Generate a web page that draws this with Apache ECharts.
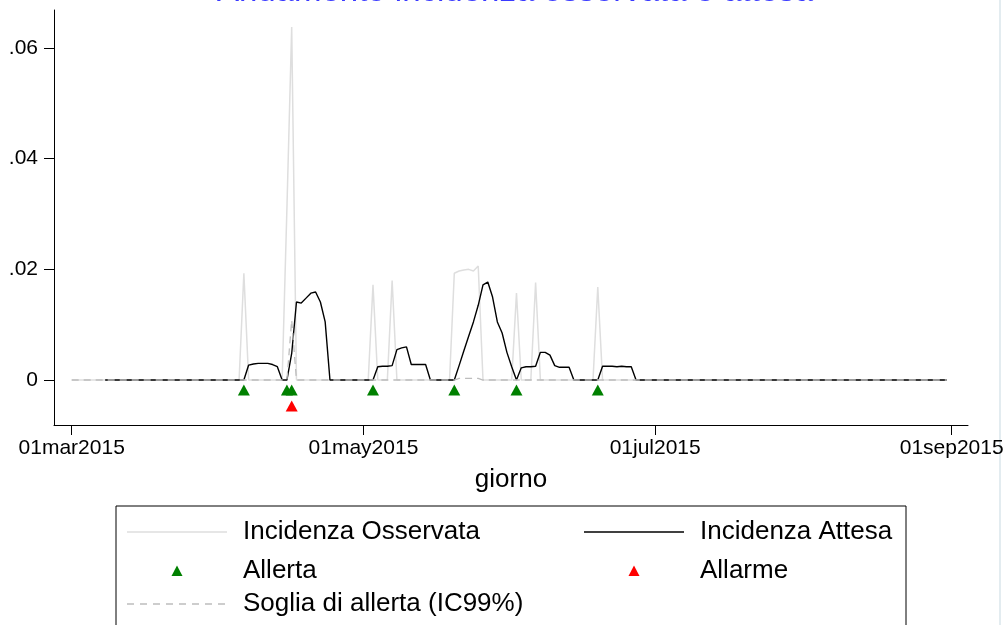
<!DOCTYPE html>
<html><head><meta charset="utf-8">
<script src="https://cdn.jsdelivr.net/npm/echarts@6/dist/echarts.min.js"></script>
<style>html,body{margin:0;padding:0;background:#fff}#c{width:1008px;height:625px}</style>
</head><body><div id="c"></div>
<script>
// ---- data (day index 0 = 01mar2015) ----
const titleText = 'Andamento incidenza osservata e attesa';
const tickDays = [0, 61, 122, 184];
const tickLabels = ['01mar2015', '01may2015', '01jul2015', '01sep2015'];
const yTicks = [0, 0.02, 0.04, 0.06];
const yTickLabels = ['0', '.02', '.04', '.06'];
const seriesNames = ['Incidenza Osservata', 'Incidenza Attesa', 'Allerta', 'Allarme', 'Soglia di allerta (IC99%)'];

const observed = [
  0,0,0,0,0,0,0,0,0,0,
  0,0,0,0,0,0,0,0,0,0,
  0,0,0,0,0,0,0,0,0,0,
  0,0,0,0,0,0,0.0193,0,0,0,
  0,0,0,0,0,0.031,0.0638,0,0,0,
  0,0,0,0,0,0,0,0,0,0,
  0,0,0,0.0172,0,0,0,0.0180,0,0,
  0,0,0,0,0,0,0,0,0,0,
  0.0193,0.0197,0.0199,0.0200,0.0197,0.0206,0,0,0,0,
  0,0,0,0.0157,0,0,0,0.0176,0,0,
  0,0,0,0,0,0,0,0,0,0,
  0.0168,0,0,0,0,0,0,0,0,0,
  0,0,0,0,0,0,0,0,0,0,
  0,0,0,0,0,0,0,0,0,0,
  0,0,0,0,0,0,0,0,0,0,
  0,0,0,0,0,0,0,0,0,0,
  0,0,0,0,0,0,0,0,0,0,
  0,0,0,0,0,0,0,0,0,0,
  0,0,0,0
];
const expected = [
  null,null,null,null,null,null,null,0,0,0,
  0,0,0,0,0,0,0,0,0,0,
  0,0,0,0,0,0,0,0,0,0,
  0,0,0,0,0,0,0,0.0027,0.0029,0.0030,
  0.0030,0.0030,0.0028,0.0024,0,0,0.0048,0.0141,0.0139,0.0148,
  0.0157,0.0159,0.0141,0.0105,0,0,0,0,0,0,
  0,0,0,0,0.0024,0.0025,0.0025,0.0026,0.0055,0.0058,
  0.0060,0.0028,0.0028,0.0028,0.0028,0,0,0,0,0,
  0,0.0026,0.0053,0.0079,0.0105,0.0135,0.0172,0.0177,0.0150,0.0105,
  0.0085,0.0050,0.0024,0,0.0022,0.0024,0.0024,0.0025,0.0050,0.0050,
  0.0045,0.0026,0.0023,0.0023,0.0023,0,0,0,0,0,
  0,0.0025,0.0025,0.0025,0.0024,0.0025,0.0024,0.0024,0,0,
  0,0,0,0,0,0,0,0,0,0,
  0,0,0,0,0,0,0,0,0,0,
  0,0,0,0,0,0,0,0,0,0,
  0,0,0,0,0,0,0,0,0,0,
  0,0,0,0,0,0,0,0,0,0,
  0,0,0,0,0,0,0,0,0,0,
  0,0,0,0
];
const threshold = [
  0,0,0,0,0,0,0,0,0,0,
  0,0,0,0,0,0,0,0,0,0,
  0,0,0,0,0,0,0,0,0,0,
  0,0,0,0,0,0,0,0,0,0,
  0,0,0,0,0,0,0.0108,0,0,0,
  0,0,0,0,0,0,0,0,0,0,
  0,0,0,0,0,0,0,0,0,0,
  0,0,0,0,0,0,0,0,0,0,
  0,0.0003,0.0003,0.0003,0.0003,0.0003,0,0,0,0,
  0,0,0,0,0,0,0,0,0,0,
  0,0,0,0,0,0,0,0,0,0,
  0,0,0,0,0,0,0,0,0,0,
  0,0,0,0,0,0,0,0,0,0,
  0,0,0,0,0,0,0,0,0,0,
  0,0,0,0,0,0,0,0,0,0,
  0,0,0,0,0,0,0,0,0,0,
  0,0,0,0,0,0,0,0,0,0,
  0,0,0,0,0,0,0,0,0,0,
  0,0,0,0
];
const alertDays = [36, 45, 46, 63, 80, 93, 110];
const alarmDays = [46];
const alertLevel = -0.0018;
const alarmLevel = -0.0047;

// ---- chart ----
const FONT = "'Liberation Sans', Arial, Helvetica, sans-serif";
const C_OBS = '#dedede', C_EXP = '#000000', C_THR = '#bdbdbd', C_ALERT = '#008000', C_ALARM = '#ff0000';
const toPts = arr => arr.map((v, i) => [i, v]).filter(p => p[1] !== null);
const chart = echarts.init(document.getElementById('c'), null, {renderer: 'canvas'});

function legText(x, y, t) {
  return {type: 'text', z: 20, x: x, y: y, style: {text: t, fill: '#000', font: '26px ' + FONT, textAlign: 'left', textVerticalAlign: 'middle'}};
}
function legTri(cx, cy, color) {
  return {type: 'polygon', z: 20, shape: {points: [[cx, cy - 5.5], [cx + 5.5, cy + 5], [cx - 5.5, cy + 5]]}, style: {fill: color}};
}
const R1 = 532, R2 = 571, R3 = 604;

chart.setOption({
  animation: false,
  backgroundColor: '#fff',
  grid: {left: 54, right: 40, top: 10, bottom: 200, containLabel: false},
  xAxis: {
    type: 'value', min: -3.70, max: 187.41,
    name: 'giorno', nameLocation: 'middle', nameGap: 42,
    nameTextStyle: {fontFamily: FONT, fontSize: 26, color: '#000'},
    axisLine: {onZero: false, lineStyle: {color: '#000', width: 1}},
    axisTick: {length: 10, lineStyle: {color: '#000'}, customValues: tickDays},
    axisLabel: {customValues: tickDays, margin: 13, fontFamily: FONT, fontSize: 21, color: '#000',
      formatter: v => { const k = tickDays.indexOf(v); return k >= 0 ? tickLabels[k] : ''; }},
    splitLine: {show: false}
  },
  yAxis: {
    type: 'value', min: -0.00813, max: 0.06687,
    axisLine: {show: true, onZero: false, lineStyle: {color: '#000', width: 1}},
    axisTick: {show: true, length: 10, lineStyle: {color: '#000'}, customValues: yTicks},
    axisLabel: {customValues: yTicks, margin: 16, fontFamily: FONT, fontSize: 21, color: '#000',
      formatter: v => { const k = yTicks.findIndex(t => Math.abs(t - v) < 1e-9); return k >= 0 ? yTickLabels[k] : ''; }},
    splitLine: {show: false}
  },
  graphic: [
    {type: 'rect', z: 0, shape: {x: 116, y: 506, width: 790, height: 200}, style: {fill: 'none', stroke: '#000', lineWidth: 1}},
    {type: 'line', z: 0, shape: {x1: 1000, y1: 0, x2: 1000, y2: 625}, style: {stroke: '#e3ecf0', lineWidth: 2}},
    {type: 'text', z: 10, x: 515, y: 8.5, style: {text: titleText, fill: '#3a3aff', font: '33px ' + FONT, textAlign: 'center', textVerticalAlign: 'bottom'}},
    {type: 'line', z: 20, shape: {x1: 127, y1: R1, x2: 227, y2: R1}, style: {stroke: C_OBS, lineWidth: 1.5}},
    legText(243, R1, seriesNames[0]),
    {type: 'line', z: 20, shape: {x1: 584, y1: R1, x2: 684, y2: R1}, style: {stroke: C_EXP, lineWidth: 1.4}},
    legText(700, R1, seriesNames[1]),
    legTri(177, R2, C_ALERT),
    legText(243, R2, seriesNames[2]),
    legTri(634, R2, C_ALARM),
    legText(700, R2, seriesNames[3]),
    {type: 'line', z: 20, shape: {x1: 127, y1: R3, x2: 227, y2: R3}, style: {stroke: C_THR, lineWidth: 1.3, lineDash: [7, 6]}},
    legText(243, R3, seriesNames[4])
  ],
  series: [
    {name: seriesNames[0], type: 'line', symbol: 'none', z: 1, data: toPts(observed),
      lineStyle: {color: C_OBS, width: 1.5}, itemStyle: {color: C_OBS}},
    {name: seriesNames[1], type: 'line', symbol: 'none', z: 2, data: toPts(expected),
      lineStyle: {color: C_EXP, width: 1.4}, itemStyle: {color: C_EXP}},
    {name: seriesNames[4], type: 'line', symbol: 'none', z: 3, data: toPts(threshold),
      lineStyle: {color: C_THR, width: 1.3, type: [7, 5]}, itemStyle: {color: C_THR}},
    {name: seriesNames[2], type: 'scatter', symbol: 'triangle', symbolSize: [12, 11], z: 4,
      data: alertDays.map(d => [d, alertLevel]), itemStyle: {color: C_ALERT, opacity: 1}},
    {name: seriesNames[3], type: 'scatter', symbol: 'triangle', symbolSize: [12, 11], z: 4,
      data: alarmDays.map(d => [d, alarmLevel]), itemStyle: {color: C_ALARM, opacity: 1}}
  ]
});
</script>
</body></html>
